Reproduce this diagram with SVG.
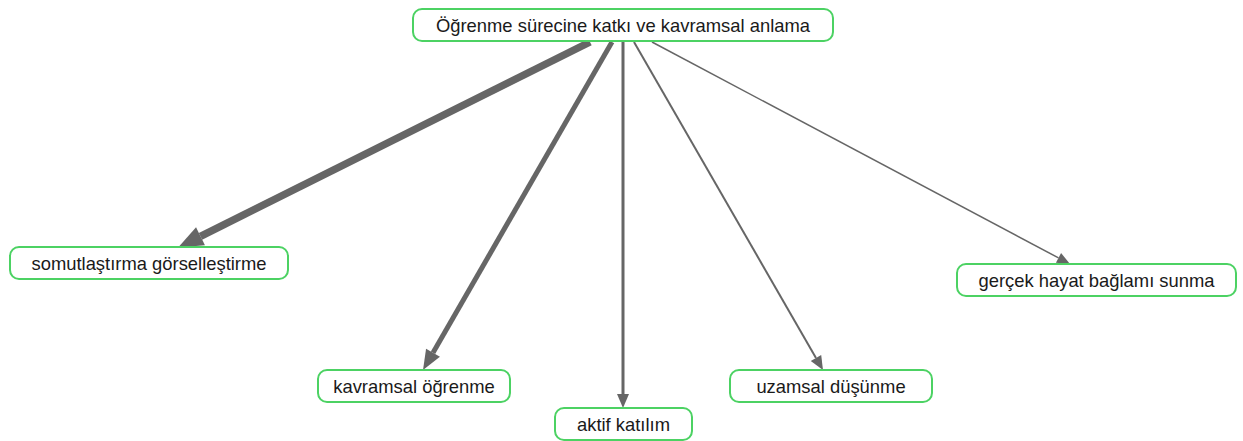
<svg xmlns="http://www.w3.org/2000/svg" width="1243" height="441" viewBox="0 0 1243 441">
  <style>
    .node rect { fill: #ffffff; stroke: #4cd263; stroke-width: 2; }
    .node text { font-family: "Liberation Sans", Arial, sans-serif; font-size: 18.4px; fill: #1a1a1a; text-anchor: middle; dominant-baseline: central; }
    .edge { stroke: #666666; fill: none; stroke-linecap: butt; }
  </style>
  <defs>
    <marker id="ah-xl" markerUnits="userSpaceOnUse" markerWidth="26" markerHeight="20" refX="0" refY="10" orient="auto" overflow="visible">
      <path d="M0,0 L25,10 L0,20 Z" fill="#666666"/>
    </marker>
    <marker id="ah-l" markerUnits="userSpaceOnUse" markerWidth="21" markerHeight="16" refX="0" refY="8" orient="auto" overflow="visible">
      <path d="M0,0 L20,8 L0,16 Z" fill="#666666"/>
    </marker>
    <marker id="ah-m" markerUnits="userSpaceOnUse" markerWidth="15" markerHeight="12" refX="0" refY="6" orient="auto" overflow="visible">
      <path d="M0,0 L14,6 L0,12 Z" fill="#666666"/>
    </marker>
    <marker id="ah-s" markerUnits="userSpaceOnUse" markerWidth="14" markerHeight="11" refX="0" refY="5.5" orient="auto" overflow="visible">
      <path d="M0,0 L13,5.5 L0,11 Z" fill="#666666"/>
    </marker>
  </defs>

  <g id="edges">
    <line class="edge" x1="590" y1="42" x2="200.5" y2="236.3" stroke-width="7.5" marker-end="url(#ah-xl)"/>
    <line class="edge" x1="612" y1="42" x2="433" y2="352.7" stroke-width="5" marker-end="url(#ah-l)"/>
    <line class="edge" x1="623" y1="42" x2="623" y2="394" stroke-width="3" marker-end="url(#ah-m)"/>
    <line class="edge" x1="634" y1="42" x2="816" y2="357.9" stroke-width="2" marker-end="url(#ah-m)"/>
    <line class="edge" x1="652" y1="42" x2="1058.5" y2="257.9" stroke-width="1.5" marker-end="url(#ah-s)"/>
  </g>

  <g id="node-root" class="node">
    <rect x="413" y="9" width="420" height="32" rx="9"/>
    <text x="623" y="25">Öğrenme sürecine katkı ve kavramsal anlama</text>
  </g>
  <g id="node-somutlastirma" class="node">
    <rect x="10" y="247" width="278" height="32" rx="9"/>
    <text x="149" y="263">somutlaştırma görselleştirme</text>
  </g>
  <g id="node-kavramsal" class="node">
    <rect x="318" y="370" width="192" height="32" rx="9"/>
    <text x="414" y="386">kavramsal öğrenme</text>
  </g>
  <g id="node-aktif" class="node">
    <rect x="555" y="408" width="137" height="32" rx="9"/>
    <text x="623.5" y="424">aktif katılım</text>
  </g>
  <g id="node-uzamsal" class="node">
    <rect x="730" y="370" width="202" height="32" rx="9"/>
    <text x="831" y="386">uzamsal düşünme</text>
  </g>
  <g id="node-gercek" class="node">
    <rect x="957" y="264" width="279" height="32" rx="9"/>
    <text x="1096.5" y="280">gerçek hayat bağlamı sunma</text>
  </g>
</svg>
